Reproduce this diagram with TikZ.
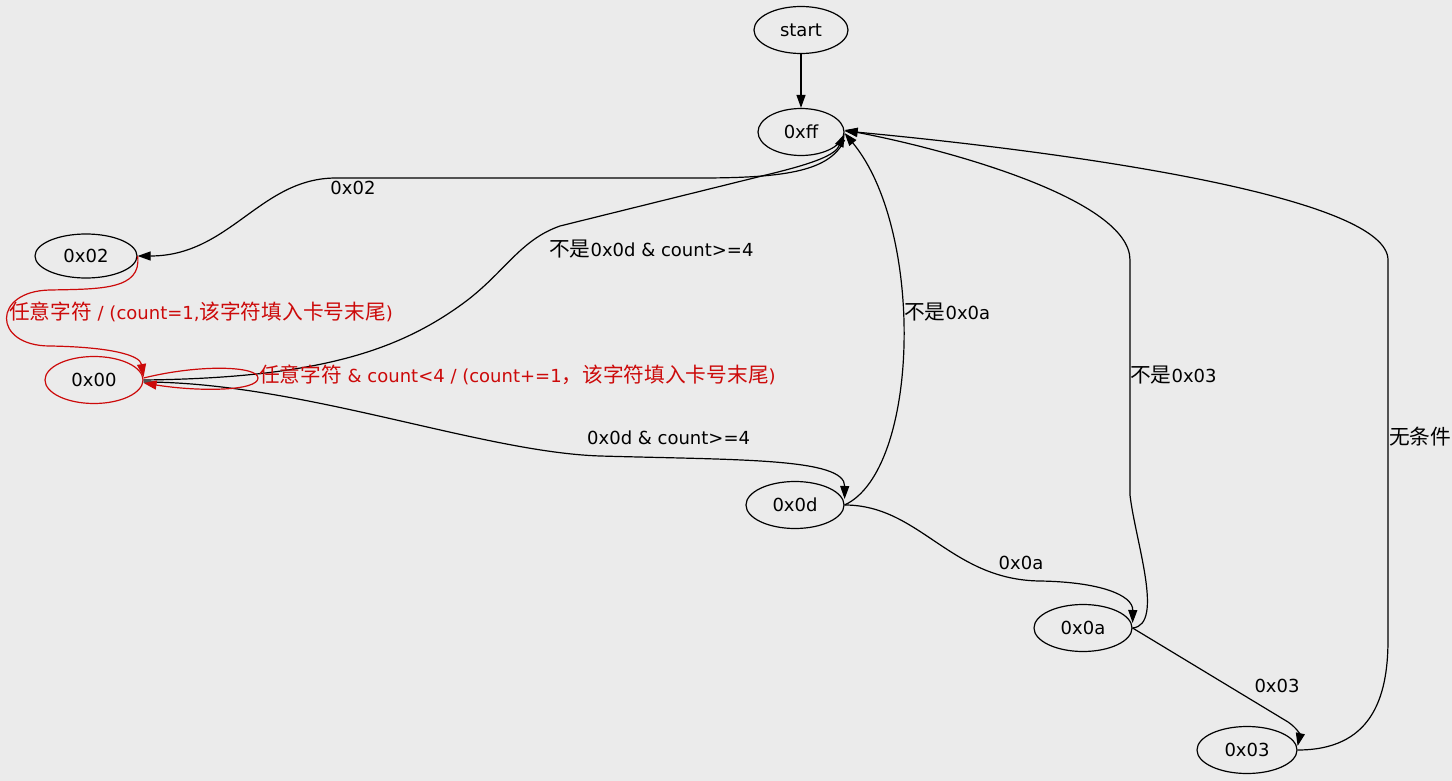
\documentclass[tikz,border=0pt]{standalone}
\usepackage{fontspec}
\setmainfont{DejaVu Sans}
\newfontfamily\cjk[Scale=1.15]{Noto Sans CJK SC}
\usepackage{tikz}
\usetikzlibrary{
  arrows.meta,
  shapes.geometric
}
\definecolor{PageGray}{RGB}{235,235,235}
\definecolor{LoopRed}{RGB}{204,10,10}
\newcommand{\zh}[1]{{\cjk #1}}
\tikzset{
  state/.style={draw=black,ellipse,line width=1.2pt,minimum width=98pt,minimum height=47pt,inner sep=0pt,font=\fontsize{18}{22}\selectfont},
  trans/.style={-{Triangle[length=13pt,width=9pt]},line width=1.2pt,draw=black},
  redtrans/.style={-{Triangle[length=13pt,width=9pt]},line width=1.2pt,draw=LoopRed},
  elabel/.style={inner sep=0pt,text height=13pt,text depth=4pt,font=\fontsize{18}{22}\selectfont},
  redlabel/.style={elabel,text=LoopRed}
}

\begin{document}
\begin{tikzpicture}[x=1pt,y=-1pt]
\path[use as bounding box,fill=PageGray] (0,0) rectangle (1452,781);

\node[state,minimum width=94pt] (st) at (801,30) {start};
\node[state,minimum width=86pt] (ff) at (801,132) {0xff};
\node[state,minimum width=102pt,minimum height=44pt] (n02) at (86,256) {0x02};
\node[state,draw=LoopRed] (n00) at (94,380) {0x00};
\node[state] (n0d) at (795,505) {0x0d};
\node[state] (n0a) at (1083,628) {0x0a};
\node[state,minimum width=100pt] (n03) at (1247,750) {0x03};

\draw[trans] (st) -- (ff);

% Edges out of 0xff and back into it.
\draw[trans] ([yshift=-8pt]ff.east) .. controls (830,170) and (790,178) .. (700,178) -- (336,178) .. controls (260,178) and (230,256) .. (n02.east);
\node[elabel] (t02) at (353,190) {0x02};

\draw[trans] (n00.east) .. controls (320,378) and (400,350) .. (465,302) .. controls (505,272) and (520,240) .. (560,226) -- (770,174) .. controls (815,163) and (835,155) .. ([yshift=-2pt]ff.east);
\node[elabel,anchor=west] (t00ff) at (549,252) {\zh{不是}0x0d \& count>=4};

\draw[trans] (n0d.east) .. controls (920,470) and (925,230) .. ([yshift=-1pt]ff.east);
\node[elabel,anchor=west] (t0dff) at (904,315) {\zh{不是}0x0a};

\draw[trans] (n0a.east) .. controls (1165,625) and (1135,540) .. (1130,495) -- (1130,260) .. controls (1130,200) and (950,150) .. ([yshift=2pt]ff.east);
\node[elabel,anchor=west] (t0aff) at (1130,378) {\zh{不是}0x03};

\draw[trans] (n03.east) .. controls (1370,750) and (1388,700) .. (1388,640) -- (1388,260) .. controls (1388,200) and (1100,155) .. ([yshift=1pt]ff.east);
\node[elabel,anchor=west] (t03ff) at (1389,440) {\zh{无条件}};

% Card number chain.
\draw[trans] ([yshift=-2pt]n00.east) .. controls (300,382) and (480,452) .. (600,456) .. controls (740,460) and (845,458) .. ([yshift=6pt]n0d.east);
\node[elabel,anchor=west] (t000d) at (587,440) {0x0d \& count>=4};

\draw[trans] (n0d.east) .. controls (920,505) and (950,580) .. (1040,581) .. controls (1100,582) and (1133,595) .. ([yshift=5pt]n0a.east);
\node[elabel] (t0d0a) at (1021,565) {0x0a};

\draw[trans] (n0a.east) -- (1288,722) .. controls (1297,728) and (1300,735) .. ([yshift=4pt]n03.east);
\node[elabel] (t0a03) at (1277,688) {0x03};

% Red transitions into 0x00.
\draw[redtrans] (n02.east) .. controls (142,290) and (100,289) .. (50,290) .. controls (-8,291) and (-8,346) .. (50,346) .. controls (110,347) and (140,355) .. ([yshift=3pt]n00.east);
\node[redlabel,anchor=west] (t0200) at (9,315) {\zh{任意字符} / (count=1,\zh{该字符填入卡号末尾})};

\draw[redtrans] ([yshift=2pt]n00.east) .. controls (200,364) and (258,366) .. (258,378) .. controls (258,391) and (200,392) .. ([yshift=-3pt]n00.east);
\node[redlabel,anchor=west] (t0000) at (259,378) {\zh{任意字符} \& count<4 / (count+=1\zh{，该字符填入卡号末尾})};
\end{tikzpicture}
\end{document}
